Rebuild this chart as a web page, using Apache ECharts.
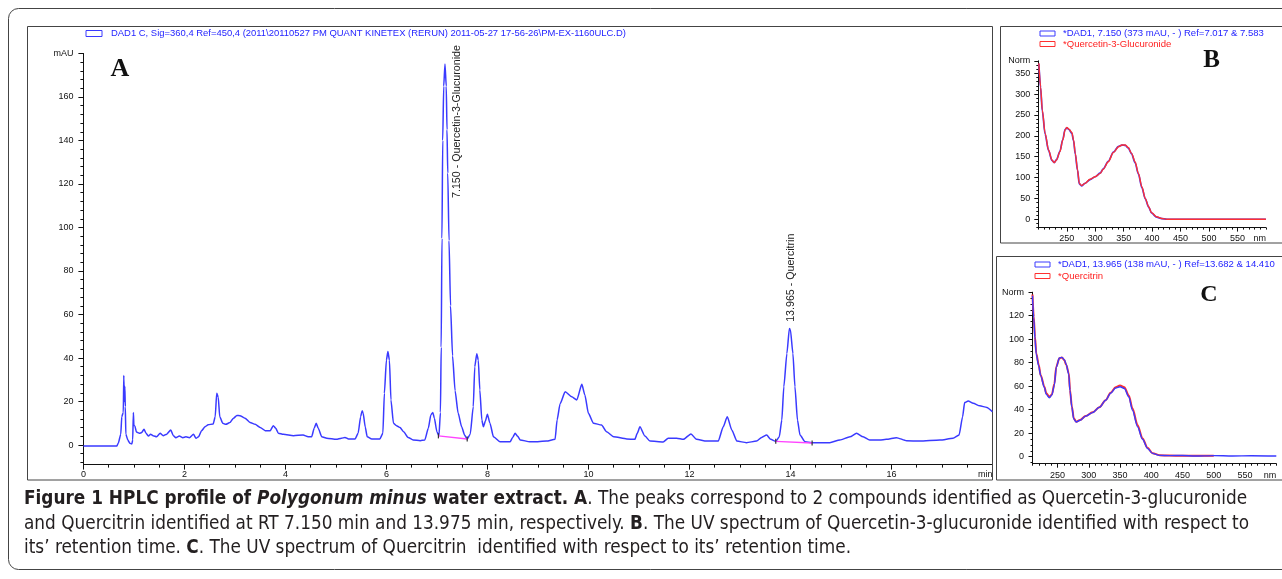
<!DOCTYPE html>
<html><head><meta charset="utf-8">
<script src="https://cdn.jsdelivr.net/npm/echarts@6/dist/echarts.min.js"></script>
<style>html,body{margin:0;padding:0;background:#fff}#c{width:1282px;height:579px}</style>
</head><body><div id="c"></div>
<script>
// ---------- DATA ----------
// Panel A chromatogram: [retention time (min), signal (mAU)]
const chromA = [[0,-0.5],[0.66,-0.5],[0.69,0.8],[0.74,5],[0.76,13],[0.79,15],[0.80,32],[0.81,20],[0.82,27],[0.83,17.6],[0.84,5],[0.88,2.3],[0.92,0.8],[0.96,0.5],[0.976,2.3],[0.99,15],[1.00,9],[1.02,8.7],[1.05,6],[1.11,5.4],[1.15,5.7],[1.20,7.2],[1.24,5.4],[1.29,4.1],[1.33,5],[1.38,4.3],[1.45,3.8],[1.52,5.4],[1.58,4.3],[1.65,5],[1.73,6.9],[1.78,4.3],[1.83,3.4],[1.90,4.1],[1.97,3.4],[2.03,3.8],[2.10,3.4],[2.18,4.9],[2.23,3.1],[2.28,3.8],[2.34,6.6],[2.41,8.4],[2.47,9.3],[2.57,9.7],[2.61,13],[2.64,23.8],[2.67,22],[2.70,13],[2.76,10],[2.82,9.5],[2.90,10.3],[2.97,12.3],[3.04,13.6],[3.10,13.5],[3.20,12.3],[3.30,10.4],[3.40,9.5],[3.50,8.1],[3.60,6.6],[3.70,6.6],[3.76,8.9],[3.81,7.7],[3.86,5.4],[3.96,4.9],[4.16,4.3],[4.35,4.6],[4.45,3.8],[4.52,3.8],[4.57,7.7],[4.61,10],[4.65,7.7],[4.72,3.8],[4.82,3.1],[5.01,2.6],[5.11,3.1],[5.18,3.5],[5.25,2.8],[5.38,2.8],[5.44,5.4],[5.49,13],[5.52,15.8],[5.54,14.6],[5.58,8.4],[5.62,3.8],[5.71,2.8],[5.87,2.8],[5.93,5.4],[5.96,23.8],[6.00,39],[6.03,43],[6.06,39],[6.09,20.7],[6.14,10],[6.20,8.9],[6.27,8],[6.34,6.1],[6.43,3.5],[6.53,2.3],[6.67,2],[6.76,2.3],[6.83,7.7],[6.88,13.8],[6.92,15],[6.95,12.3],[7.00,6.1],[7.04,4.2],[7.07,15],[7.085,45],[7.10,95],[7.115,140],[7.135,165],[7.16,175.2],[7.185,165],[7.20,145],[7.215,125],[7.24,94],[7.27,64],[7.31,41],[7.36,25],[7.42,14.7],[7.49,8.4],[7.55,4.5],[7.60,2.8],[7.66,5],[7.72,17.6],[7.75,36],[7.79,42],[7.82,39],[7.85,25.3],[7.89,11.5],[7.92,8.4],[7.96,11],[8.00,14.2],[8.05,10],[8.12,3.8],[8.25,1.5],[8.45,1.5],[8.50,3.5],[8.55,5.4],[8.60,4],[8.65,2.3],[8.84,1.5],[8.91,1.5],[9.17,1.8],[9.34,2.6],[9.38,11.5],[9.44,19],[9.54,24.5],[9.67,22.2],[9.77,20.7],[9.87,27.9],[9.93,23],[10.00,14.6],[10.10,10],[10.26,9.2],[10.36,6.1],[10.50,3.8],[10.76,2.8],[10.92,2.6],[10.97,5.5],[11.02,8.4],[11.12,4.1],[11.22,1.8],[11.48,1.4],[11.58,3.1],[11.75,3.1],[11.88,2.6],[12.03,5.1],[12.14,2.6],[12.34,1.8],[12.57,1.8],[12.67,8.4],[12.75,13],[12.84,6.9],[12.94,1.8],[13.13,1.1],[13.33,1.8],[13.43,3.5],[13.53,4.6],[13.61,2.6],[13.71,1.7],[13.78,3.8],[13.83,11.5],[13.87,26.8],[13.93,42],[13.98,53.6],[14.00,53],[14.05,42],[14.09,26.8],[14.14,11.5],[14.19,4.6],[14.29,1.5],[14.42,1.1],[14.78,1.1],[14.98,2.3],[15.18,3.8],[15.31,5.4],[15.44,3.8],[15.57,2.3],[15.77,2.3],[15.90,2.6],[16.10,3.4],[16.30,2],[16.56,1.8],[16.96,2.3],[17.22,3.1],[17.34,4.6],[17.41,13],[17.45,19.5],[17.52,20.2],[17.62,19.2],[17.75,18],[17.89,17.3],[18.00,15.3]];
// integration baselines (magenta)
const baselineQ3G = [[7.03,4.2],[7.60,2.8]];
const baselineQuercitrin = [[13.71,1.7],[14.43,0.9]];
// peak annotations
const peakNames = ['7.150 - Quercetin-3-Glucuronide', '13.965 - Quercitrin'];
const peakApex = [[7.16,175.2],[13.98,53.6]];

// Panel B spectrum (nm, Norm)
const specB_nm     = [201,204,207,212,218,224,228,232,238,243,247,250,254,259,262,265,269,272,276,282,291,300,309,314,323,332,341,347,353,358,364,370,376,382,388,394,399,408,417,426,440,600];
const specB_sample = [373,316,260,204,165,141,136,143,163,191,215,219,215,206,188,156,117,85,80,86,95,102,111,121,139,161,175,178,177,171,157,136,108,76,49,29,15,5,1.5,0,0,0];
const specB_ref    = [374,318,262,206,166,142,136,142,162,190,214,220,216,208,190,158,118,86,81,86,96,102,110,120,138,160,174,178,178,172,158,138,110,78,50,30,16,6,2,0,0,0];

// Panel C spectrum (nm, Norm)
const specC_nm     = [210,212,214,216,220,223,229,232,237,241,245,248,253,257,261,264,268,270,273,276,280,286,295,306,317,327,335,343,350,357,364,370,378,386,394,402,413,429,450,470,500,530,560,600];
const specC_sample = [137,118,100,87,77,69,59,53,50,52.5,61,76,84,84.5,82.5,78.5,70,56,42,32,29.5,31,34.5,37.5,42,48,54,58.5,59.5,58,51,39.5,25.5,14.8,7,2.8,1.1,0.85,1.0,0.5,0.9,0.6,0.8,0.5];
const specC_ref    = [138,119,102,88,78,69.5,59.6,54,51,53,62,76.6,83.7,84.5,82,78,71,56.7,42.6,32.6,29.8,31.2,34.6,37.7,42,48,54.5,59,60.5,59,52,41,27,15.5,7.5,3,1.2,0.9,0.8,0.8,0.8,null,null,null];

// tick labels
const aXLabels = [0,2,4,6,8,10,12,14,16];
const aYLabels = [0,20,40,60,80,100,120,140,160];
const bXLabels = [250,300,350,400,450,500,550];
const bYLabels = [0,50,100,150,200,250,300,350];
const cXLabels = [250,300,350,400,450,500,550];
const cYLabels = [0,20,40,60,80,100,120];

// legend / caption texts
const legendA = 'DAD1 C, Sig=360,4 Ref=450,4 (2011\\20110527 PM QUANT KINETEX (RERUN) 2011-05-27 17-56-26\\PM-EX-1160ULC.D)';
const legendB = ['*DAD1, 7.150 (373 mAU, - ) Ref=7.017 & 7.583', '*Quercetin-3-Glucuronide'];
const legendC = ['*DAD1, 13.965 (138 mAU, - ) Ref=13.682 & 14.410', '*Quercitrin'];

// ---------- HELPERS ----------
const SANS = "'Liberation Sans', Arial, sans-serif";
const NARROW = "'Liberation Sans Narrow', 'DejaVu Sans Condensed', 'Liberation Sans', sans-serif";
const SERIF = "'Liberation Serif', 'Times New Roman', serif";
const mctx = document.createElement('canvas').getContext('2d');
function fit(text, family, weight, target) {
  mctx.font = weight + ' 100px ' + family;
  return 100 * target / mctx.measureText(text).width;
}
function steps(min, max, step) {
  const out = [];
  for (let k = Math.ceil(min / step - 1e-9); k * step <= max + 1e-9; k++) out.push(+(k * step).toFixed(6));
  return out;
}
function zip(a, b) { return a.map((v, i) => [v, b[i]]); }

const axisCol = '#111';
const lblStyle = { color: '#111', fontSize: 9, fontFamily: SANS };

function axisPair(kind, grid, min, max, labels, minorStep, opts) {
  const isY = kind === 'y';
  const labelVals = isY ? labels.concat([max]) : labels;
  const main = {
    type: 'value', gridIndex: grid, min: min, max: max,
    position: isY ? 'left' : 'bottom',
    axisLine: { show: true, onZero: false, lineStyle: { color: axisCol, width: 1 } },
    axisTick: { show: true, inside: false, length: opts.minorLen, customValues: steps(min, max, minorStep), lineStyle: { color: axisCol, width: 1 } },
    axisLabel: Object.assign({ show: true, customValues: labelVals, margin: opts.margin, showMinLabel: true, showMaxLabel: true,
      formatter: v => (isY && v === max) ? opts.unit : String(v) }, lblStyle),
    splitLine: { show: false }
  };
  const over = {
    type: 'value', gridIndex: grid, min: min, max: max,
    position: isY ? 'left' : 'bottom',
    axisLine: { show: false, onZero: false },
    axisTick: { show: true, inside: false, length: opts.majorLen, customValues: labelVals, lineStyle: { color: axisCol, width: 1 } },
    axisLabel: { show: false },
    splitLine: { show: false }
  };
  return [main, over];
}

// ---------- CHART ----------
const chart = echarts.init(document.getElementById('c'), null, { renderer: 'canvas' });

const grids = [
  { left: 83.4, top: 53.5, width: 909, height: 411.1 },
  { left: 1038.3, top: 60.8, width: 227.6, height: 166.8 },
  { left: 1032.5, top: 292.2, width: 243.8, height: 171.5 }
];

const xAxes = [].concat(
  axisPair('x', 0, 0, 18, aXLabels, 0.5, { minorLen: 3, majorLen: 5, margin: 5 }),
  axisPair('x', 1, 200, 600, bXLabels, 10, { minorLen: 2, majorLen: 4, margin: 6 }),
  axisPair('x', 2, 210, 600, cXLabels, 10, { minorLen: 2, majorLen: 4, margin: 7.5 })
);
const yAxes = [].concat(
  axisPair('y', 0, -9, 180, aYLabels, 4, { minorLen: 3, majorLen: 5, margin: 10, unit: 'mAU' }),
  axisPair('y', 1, -20, 380, bYLabels, 10, { minorLen: 2, majorLen: 4, margin: 8, unit: 'Norm' }),
  axisPair('y', 2, -6, 140, cYLabels, 5, { minorLen: 2, majorLen: 4, margin: 8.5, unit: 'Norm' })
);

const BLUE = '#3a3aff', RED = '#ff3030', MAG = '#ff44ff';
const series = [
  { type: 'line', name: 'chrom', xAxisIndex: 0, yAxisIndex: 0, data: chromA, showSymbol: false, smooth: 0.2, smoothMonotone: 'x',
    lineStyle: { color: BLUE, width: 1.5 }, itemStyle: { color: BLUE }, z: 3 },
  { type: 'line', name: 'bl1', xAxisIndex: 0, yAxisIndex: 0, data: baselineQ3G, symbol: 'rect', symbolSize: [1.2, 5], showSymbol: true,
    lineStyle: { color: MAG, width: 1.4 }, itemStyle: { color: '#333' }, z: 4 },
  { type: 'line', name: 'bl2', xAxisIndex: 0, yAxisIndex: 0, data: baselineQuercitrin, symbol: 'rect', symbolSize: [1.2, 5], showSymbol: true,
    lineStyle: { color: MAG, width: 1.4 }, itemStyle: { color: '#333' }, z: 4 },
  { type: 'line', name: 'Bs', xAxisIndex: 2, yAxisIndex: 2, data: zip(specB_nm, specB_sample), showSymbol: false, smooth: 0.3, smoothMonotone: 'x',
    lineStyle: { color: BLUE, width: 1.7 }, z: 3 },
  { type: 'line', name: 'Br', xAxisIndex: 2, yAxisIndex: 2, data: zip(specB_nm, specB_ref), showSymbol: false, smooth: 0.3, smoothMonotone: 'x',
    lineStyle: { color: RED, width: 1.4 }, z: 4 },
  { type: 'line', name: 'Cr', xAxisIndex: 4, yAxisIndex: 4, data: zip(specC_nm, specC_ref), showSymbol: false, smooth: 0.3, smoothMonotone: 'x', connectNulls: false,
    lineStyle: { color: RED, width: 2 }, z: 3 },
  { type: 'line', name: 'Cs', xAxisIndex: 4, yAxisIndex: 4, data: zip(specC_nm, specC_sample), showSymbol: false, smooth: 0.3, smoothMonotone: 'x',
    lineStyle: { color: BLUE, width: 1.4 }, z: 4 }
];

chart.setOption({
  backgroundColor: '#fff',
  animation: false,
  grid: grids,
  xAxis: xAxes,
  yAxis: yAxes,
  series: series
});

// ---------- GRAPHICS (frames, legends, labels, caption) ----------
const px = (xi, yi, p) => chart.convertToPixel({ xAxisIndex: xi, yAxisIndex: yi }, p);
const g = [];
const frame = (x, y, w, h, r) => g.push({ type: 'rect', shape: { x: x, y: y, width: w, height: h, r: r || 0 }, style: { fill: 'none', stroke: '#444', lineWidth: 1 }, z: 1 });
frame(8.5, 8.5, 1290, 561, 10);
frame(27.5, 26.5, 965, 453.5);
frame(1000.5, 26.5, 290, 216.5);
frame(996.5, 256.5, 290, 223.5);

const icon = (x, y, col) => g.push({ type: 'rect', shape: { x: x, y: y, width: 15, height: 5 }, style: { fill: '#fff', stroke: col, lineWidth: 1 }, z: 5 });
const txt = (x, y, text, size, col, extra) => g.push(Object.assign({ type: 'text', x: x, y: y, z: 6,
  style: Object.assign({ text: text, fill: col, fontSize: size, fontFamily: SANS, align: 'left', verticalAlign: 'middle' }, (extra && extra.style) || {}) },
  extra && extra.rotation ? { rotation: extra.rotation } : {}));

// Panel A legend
g.push({ type: 'rect', shape: { x: 86, y: 30.5, width: 16, height: 6 }, style: { fill: '#fff', stroke: BLUE, lineWidth: 1 }, z: 5 });
txt(111, 33.5, legendA, fit(legendA, SANS, 'normal', 516), '#2424ff');
// Panel B legend
const fsB = fit(legendB[0], SANS, 'normal', 201);
icon(1040, 31, BLUE); txt(1063, 33.5, legendB[0], fsB, '#2424ff');
icon(1040, 41.5, RED); txt(1063, 44.3, legendB[1], fsB, '#ff2020');
// Panel C legend
const fsC = fit(legendC[0], SANS, 'normal', 217);
icon(1035, 262, BLUE); txt(1058, 264.5, legendC[0], fsC, '#2424ff');
icon(1035, 273.5, RED); txt(1058, 276, legendC[1], fsC, '#ff2020');

// Big panel letters
const big = (x, y, t, s) => g.push({ type: 'text', x: x, y: y, z: 6, style: { text: t, fill: '#111', fontSize: s, fontWeight: 'bold', fontFamily: SERIF, align: 'center', verticalAlign: 'middle' } });
big(120, 69, 'A', 26); big(1211.5, 61, 'B', 25); big(1209, 295, 'C', 24);

// Peak labels, anchored to the peak apex
const pfs = fit(peakNames[0], SANS, 'normal', 153);
const peakOffsets = [[12, 134], [1.2, -6.6]];
peakApex.forEach((p, i) => {
  const q = px(0, 0, p);
  txt(q[0] + peakOffsets[i][0], q[1] + peakOffsets[i][1], peakNames[i], pfs, '#222', { rotation: Math.PI / 2 });
});

// Axis unit labels (right-aligned at axis ends)
const unitAt = (xi, yi, p, dy, t) => { const q = px(xi, yi, p); g.push({ type: 'text', x: q[0], y: q[1] + dy, z: 6, style: { text: t, fill: '#111', fontSize: 9, fontFamily: SANS, align: 'right', verticalAlign: 'middle' } }); };
unitAt(0, 0, [18, -9], 10, 'min');
unitAt(2, 2, [600, -20], 10.7, 'nm');
unitAt(4, 4, [600, -6], 12.3, 'nm');

// Caption
const cap2plain = 'and Quercitrin identified at RT 7.150 min and 13.975 min, respectively. B. The UV spectrum of Quercetin-3-glucuronide identified with respect to';
const cfs = fit(cap2plain, NARROW, 'normal', 1224);
const rich = {
  r: { fontSize: cfs, fontFamily: NARROW, fill: '#231f20' },
  b: { fontSize: cfs, fontFamily: NARROW, fontWeight: 'bold', fill: '#231f20' },
  bi: { fontSize: cfs, fontFamily: NARROW, fontWeight: 'bold', fontStyle: 'italic', fill: '#231f20' }
};
const capLines = [
  '{b|Figure 1 HPLC profile of }{bi|Polygonum minus}{b| water extract. A}{r|. The peaks correspond to 2 compounds identified as Quercetin-3-glucuronide}',
  '{r|and Quercitrin identified at RT 7.150 min and 13.975 min, respectively. }{b|B}{r|. The UV spectrum of Quercetin-3-glucuronide identified with respect to}',
  '{r|its\u2019 retention time. }{b|C}{r|. The UV spectrum of Quercitrin  identified with respect to its\u2019 retention time.}'
];
[499, 524, 548].forEach((y, i) => g.push({ type: 'text', x: 24, y: y, z: 6, style: { text: capLines[i], rich: rich, align: 'left', verticalAlign: 'middle', fontSize: cfs, fontFamily: NARROW } }));

chart.setOption({ graphic: { elements: g } });
</script>
</body></html>
